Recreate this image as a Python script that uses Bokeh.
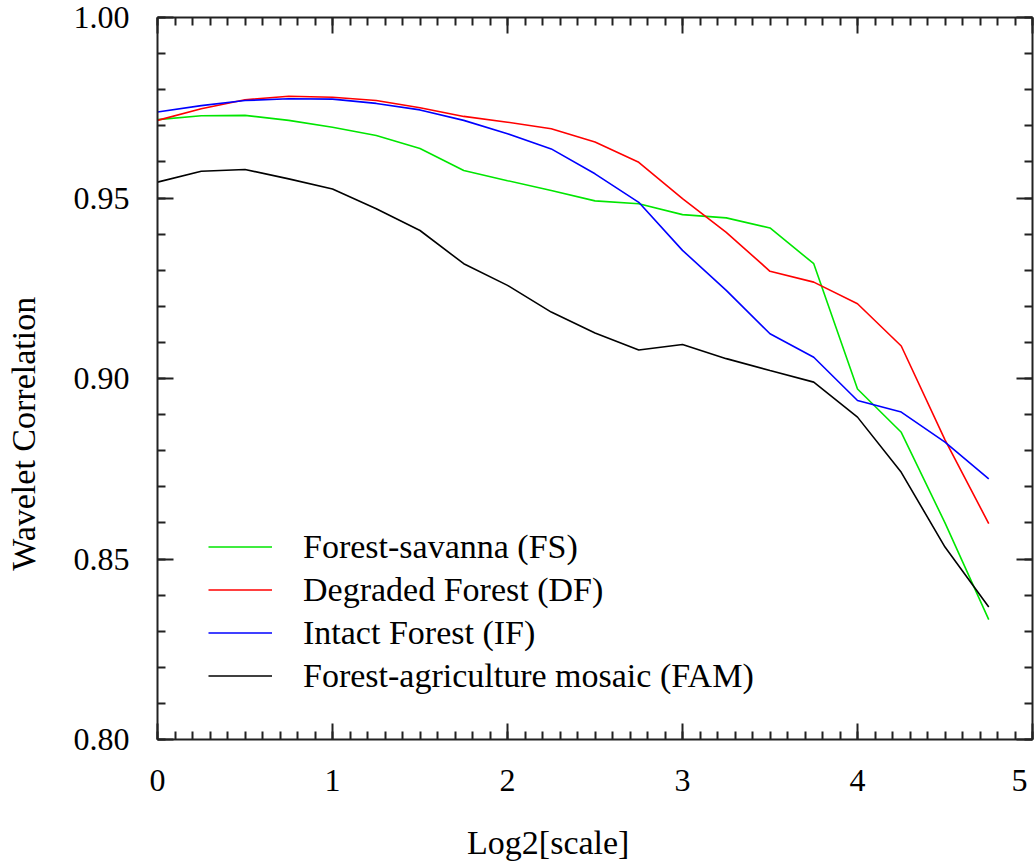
import numpy as np
from bokeh.plotting import figure
from bokeh.models import (Range1d, LinearAxis, SingleIntervalTicker, PrintfTickFormatter,
                          CustomJSTickFormatter, Legend, LegendItem)
from bokeh.embed import file_html
from bokeh.resources import INLINE

# ---- data ----
log2_scale = [0.0, 0.25, 0.5, 0.75, 1.0, 1.25, 1.5, 1.75, 2.0, 2.25,
              2.5, 2.75, 3.0, 3.25, 3.5, 3.75, 4.0, 4.25, 4.5, 4.75]
forest_savanna = [0.9717, 0.9728, 0.9729, 0.9715, 0.9696, 0.9673, 0.9637, 0.9576, 0.9548, 0.9521,
                  0.9492, 0.9484, 0.9454, 0.9445, 0.9417, 0.9318, 0.8971, 0.8851, 0.8600, 0.8332]
degraded_forest = [0.9715, 0.9747, 0.9772, 0.9782, 0.9779, 0.9770, 0.9750, 0.9726, 0.9710, 0.9692,
                   0.9655, 0.9599, 0.9498, 0.9405, 0.9297, 0.9267, 0.9207, 0.9090, 0.8830, 0.8598]
intact_forest = [0.9738, 0.9756, 0.9770, 0.9775, 0.9774, 0.9762, 0.9744, 0.9715, 0.9678, 0.9636,
                 0.9567, 0.9488, 0.9355, 0.9244, 0.9124, 0.9059, 0.8939, 0.8907, 0.8824, 0.8722]
forest_agri_mosaic = [0.9544, 0.9574, 0.9579, 0.9553, 0.9525, 0.9470, 0.9410, 0.9318, 0.9258, 0.9184,
                      0.9126, 0.9079, 0.9094, 0.9055, 0.9022, 0.8990, 0.8893, 0.8740, 0.8533, 0.8367]

series_names = ["Forest-savanna (FS)", "Degraded Forest (DF)", "Intact Forest (IF)",
                "Forest-agriculture mosaic (FAM)"]
series_values = [forest_savanna, degraded_forest, intact_forest, forest_agri_mosaic]
series_colors = ["#00e600", "#ff0000", "#0000ff", "#000000"]

x_label = "Log2[scale]"
y_label = "Wavelet Correlation"

FONT = "Liberation Serif"
NB = "\u00a0"

p = figure(width=1035, height=863, output_backend="svg", toolbar_location=None,
           x_range=Range1d(0, 5), y_range=Range1d(0.80, 1.00),
           x_axis_type=None, y_axis_type=None)
p.min_border_left = 157
p.min_border_right = 3
p.min_border_top = 17
p.min_border_bottom = 124
p.outline_line_color = None
p.background_fill_color = "white"
p.border_fill_color = "white"


def style_axis(ax, show_labels):
    ax.axis_line_color = "#222222"
    ax.axis_line_width = 2
    ax.major_tick_in = 16
    ax.major_tick_out = 0
    ax.minor_tick_in = 8
    ax.minor_tick_out = 0
    ax.major_tick_line_color = "#222222"
    ax.minor_tick_line_color = "#222222"
    ax.major_tick_line_width = 2
    ax.minor_tick_line_width = 2
    if show_labels:
        ax.major_label_text_font = FONT
        ax.major_label_text_font_size = "32px"
        ax.major_label_text_color = "black"
        ax.axis_label_text_font = FONT
        ax.axis_label_text_font_size = "34px"
        ax.axis_label_text_font_style = "normal"
        ax.axis_label_text_color = "black"
    else:
        ax.formatter = CustomJSTickFormatter(code="return ''")
        ax.major_label_standoff = 0
        ax.axis_label_standoff = 0


xb = LinearAxis(ticker=SingleIntervalTicker(interval=1, num_minor_ticks=10))
style_axis(xb, True)
xb.major_label_standoff = 22
xb.major_label_overrides = {5: "5" + NB}
# trailing no-break spaces shift the centred title left, as in the reference
xb.axis_label = x_label + NB * 11
xb.axis_label_standoff = 23
p.add_layout(xb, "below")

xt = LinearAxis(ticker=SingleIntervalTicker(interval=1, num_minor_ticks=10))
style_axis(xt, False)
p.add_layout(xt, "above")

yl = LinearAxis(ticker=SingleIntervalTicker(interval=0.05, num_minor_ticks=5),
                formatter=PrintfTickFormatter(format="%.2f"))
style_axis(yl, True)
yl.major_label_standoff = 28
yl.axis_label = y_label + NB * 13
yl.axis_label_standoff = 29
p.add_layout(yl, "left")

yr = LinearAxis(ticker=SingleIntervalTicker(interval=0.05, num_minor_ticks=5))
style_axis(yr, False)
p.add_layout(yr, "right")

items = []
for name, vals, col in zip(series_names, series_values, series_colors):
    r = p.line(log2_scale, vals, line_color=col, line_width=1.6)
    items.append(LegendItem(label=name, renderers=[r]))

legend = Legend(items=items, location=(51, 42), padding=0, margin=0, spacing=0,
                glyph_width=64, glyph_height=43, label_height=43, label_standoff=31,
                label_text_font=FONT, label_text_font_size="34px", label_text_color="black",
                label_text_baseline="middle",
                border_line_color=None, background_fill_alpha=0)
p.add_layout(legend, "center")

open("out.html", "w").write(file_html(p, INLINE))
